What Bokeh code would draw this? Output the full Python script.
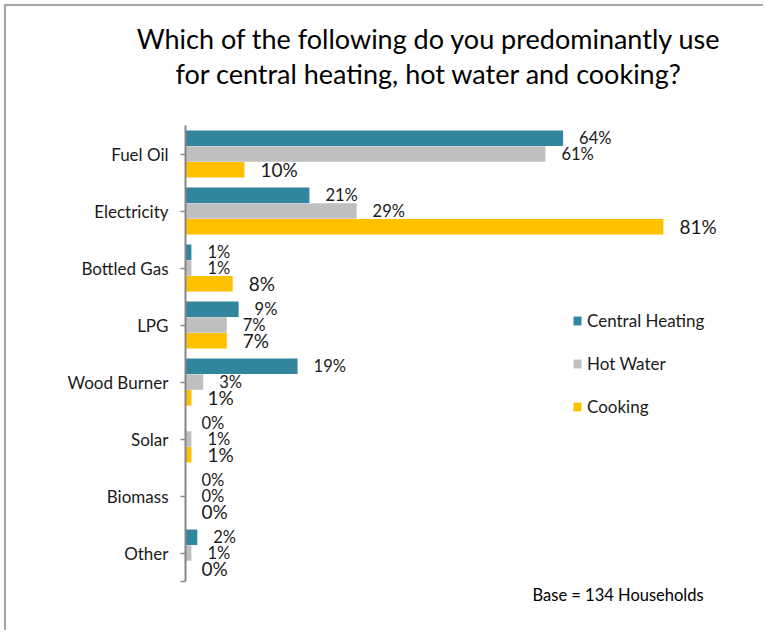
import numpy as np
from bokeh.plotting import figure
from bokeh.models import Range1d, Label, Legend, LegendItem, ColumnDataSource, FixedTicker
from bokeh.embed import file_html
from bokeh.resources import INLINE
from bokeh.core.properties import value

categories = ["Fuel Oil", "Electricity", "Bottled Gas", "LPG", "Wood Burner", "Solar", "Biomass", "Other"]
central_heating = [64, 21, 1, 9, 19, 0, 0, 2]
hot_water = [61, 29, 1, 7, 3, 1, 0, 1]
cooking = [10, 81, 8, 7, 1, 1, 0, 0]
series_names = ["Central Heating", "Hot Water", "Cooking"]
series_colors = ["#31859C", "#BFBFBF", "#FFC000"]
title_lines = ["Which of the following do you predominantly use",
               "for central heating, hot water and cooking?"]
base_note = "Base = 134 Households"

FONT = "Lato"
W, H = 759, 626
PX_X = 5.9      # pixels per percentage point
PX_Y = 57.0     # pixels per category
AXIS_X = 179    # pixel position of the category axis
LAST_Y = 546.5  # pixel (from top) of the last category centre

n = len(categories)
cat_pos = np.arange(n)[::-1].astype(float)   # first category on top

p = figure(width=W, height=H, output_backend="svg", toolbar_location=None,
           x_range=Range1d(-AXIS_X / PX_X, (W - AXIS_X) / PX_X),
           y_range=Range1d(-(H - LAST_Y) / PX_Y, LAST_Y / PX_Y),
           min_border=0, min_border_left=0, min_border_right=0,
           min_border_top=0, min_border_bottom=0)
p.styles = {"margin-left": "4px", "margin-top": "4px",
            "border-left": "2px solid #a5a5a5", "border-top": "2px solid #a5a5a5"}
p.outline_line_color = None
p.xgrid.visible = False
p.ygrid.visible = False
p.xaxis.visible = False

ax = p.yaxis[0]
ax.fixed_location = 0
ax.bounds = (-0.5, n - 0.5)
ax.ticker = FixedTicker(ticks=list(cat_pos) + [-0.5])
overrides = {float(v): c for v, c in zip(cat_pos, categories)}
overrides[-0.5] = ""
ax.major_label_overrides = overrides
ax.axis_line_color = "#868686"
ax.axis_line_width = 2
ax.major_tick_line_color = "#868686"
ax.major_tick_line_width = 1.5
ax.major_tick_out = 5
ax.major_tick_in = 0
ax.minor_tick_line_color = None
ax.major_label_text_font = FONT
ax.major_label_text_font_size = "17px"
ax.major_label_text_color = "#1a1a1a"
ax.major_label_standoff = 12

series_values = [central_heating, hot_water, cooking]
offsets = [0.275, 0.0, -0.275]
label_sizes = ["16.5px", "16.5px", "19px"]
items = []
for vals, name, color, off, fs in zip(series_values, series_names, series_colors, offsets, label_sizes):
    src = ColumnDataSource(dict(y=cat_pos + off, val=vals, lab=[f"{v}%" for v in vals]))
    r = p.hbar(y="y", left=0, right="val", height=0.272,
               fill_color=color, line_color=None, source=src)
    p.text(x="val", y="y", text="lab", source=src,
           x_offset=16, text_baseline="middle", text_align="left",
           text_font=value(FONT), text_font_size=fs, text_color="#1a1a1a")
    items.append(LegendItem(label=name, renderers=[r]))

legend = Legend(items=items, location=(566, 215.5), padding=0, margin=0,
                border_line_color=None, background_fill_alpha=0,
                glyph_width=10, glyph_height=11, label_height=20, spacing=22,
                label_standoff=5, label_text_font=FONT, label_text_font_size="17px",
                label_text_color="#1a1a1a")
p.add_layout(legend, "center")

for line, yy in zip(title_lines, [H - 32, H - 67]):
    p.add_layout(Label(x=422.5, y=yy, x_units="screen", y_units="screen", text=line,
                       text_align="center", text_baseline="middle", text_font=FONT,
                       text_font_size="27px", text_color="#000000"))

p.add_layout(Label(x=526, y=H - 588, x_units="screen", y_units="screen", text=base_note,
                   text_align="left", text_baseline="middle", text_font=FONT,
                   text_font_size="16.5px", text_color="#000000"))

open("out.html", "w").write(file_html(p, INLINE))
